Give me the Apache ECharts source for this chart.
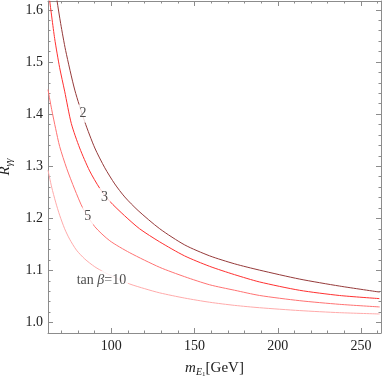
<!DOCTYPE html>
<html>
<head>
<meta charset="utf-8">
<script src="https://cdn.jsdelivr.net/npm/echarts@6/dist/echarts.min.js"></script>
<style>
  html, body { margin: 0; padding: 0; background: #fff; }
  #chart { width: 382px; height: 377px; }
</style>
</head>
<body>
<div id="chart"></div>
<script>
// curves for tan beta = 2, 3, 5, 10
const x2 = [66.3, 67.4, 69.6, 72.6, 78.1, 84.1, 90.1, 96.1, 102.1, 108.1, 116.1, 129.1, 144.1, 159.1, 174.1, 189.1, 213.2, 237.2, 261.2];
const y2 = [1.644, 1.618, 1.574, 1.522, 1.446, 1.385, 1.335, 1.297, 1.266, 1.241, 1.215, 1.18, 1.149, 1.128, 1.1127, 1.1006, 1.0834, 1.07, 1.0585];
const x3 = [63, 66, 69, 72, 76, 81, 87, 93, 99, 108, 117, 129, 144, 159, 174, 189, 213, 237, 261];
const y3 = [1.618, 1.545, 1.489, 1.444, 1.382, 1.335, 1.291, 1.258, 1.233, 1.205, 1.18, 1.155, 1.128, 1.108, 1.092, 1.078, 1.062, 1.052, 1.046];
const x5 = [62, 64.2, 66.6, 69, 73.2, 78, 83, 90.1, 99.1, 111.1, 129.1, 144.1, 159.1, 174.1, 189.1, 213.2, 237.2, 261.2];
const y5 = [1.447, 1.409, 1.372, 1.338, 1.296, 1.256, 1.219, 1.184, 1.157, 1.134, 1.106, 1.088, 1.0725, 1.062, 1.052, 1.042, 1.035, 1.03];
const x10 = [62, 64.2, 66.6, 69, 72, 75, 79.1, 84.1, 90.1, 96.1, 103.3, 111.1, 120.1, 129.1, 144.1, 159.1, 174.1, 189.1, 213.2, 237.2, 261.2];
const y10 = [1.2925, 1.26, 1.231, 1.206, 1.18, 1.16, 1.139, 1.122, 1.107, 1.096, 1.085, 1.074, 1.065, 1.057, 1.047, 1.039, 1.033, 1.0285, 1.023, 1.019, 1.0165];

// curve labels
const labelX = [83, 96, 85.9, 94.1];
const labelY = [1.401, 1.241, 1.204, 1.082];
const labelText = ['2', '3', '5', '{n|tan }{i|β}{n|=10}'];

// ticks
const xMajor = [100, 150, 200, 250];
const xMinor = [70, 80, 90, 110, 120, 130, 140, 160, 170, 180, 190, 210, 220, 230, 240, 260];
const yMajor = [1.0, 1.1, 1.2, 1.3, 1.4, 1.5, 1.6];
const yMinor = [1.02, 1.04, 1.06, 1.08, 1.12, 1.14, 1.16, 1.18, 1.22, 1.24, 1.26, 1.28,
  1.32, 1.34, 1.36, 1.38, 1.42, 1.44, 1.46, 1.48, 1.52, 1.54, 1.56, 1.58];

const colors = ['#953a3a', '#ff3030', '#ff7272', '#ffaaaa'];
const font = 'Liberation Serif';
const frame = '#8c8c8c';

const chart = echarts.init(document.getElementById('chart'));

function pts(xs, ys) {
  return xs.map((x, i) => [x, ys[i]]);
}

function xAx(pos, major, labels, name) {
  return {
    type: 'value', min: 62, max: 262, position: pos,
    name: name || '', nameLocation: 'middle', nameGap: 25,
    nameTextStyle: {
      fontFamily: font, color: '#222', fontSize: 15,
      rich: {
        i: { fontFamily: font, fontStyle: 'italic', fontSize: 15, color: '#222' },
        s: { fontFamily: font, fontStyle: 'italic', fontSize: 10, color: '#222', padding: [9, 0, 0, 0] },
        s1: { fontFamily: font, fontSize: 7, color: '#222', padding: [13, 0, 0, 0] },
        n: { fontFamily: font, fontSize: 15, color: '#222' }
      }
    },
    axisLine: { show: major, lineStyle: { color: frame, width: 1 } },
    axisTick: { show: true, inside: true, length: major ? 5 : 2.5,
      customValues: major ? xMajor : xMinor, lineStyle: { color: frame } },
    axisLabel: { show: labels, customValues: xMajor, fontFamily: font, fontSize: 14, color: '#222', margin: 6 },
    splitLine: { show: false }
  };
}

function yAx(pos, major, labels, name) {
  return {
    type: 'value', min: 0.98, max: 1.617, position: pos,
    name: name || '', nameLocation: 'middle', nameGap: 26,
    nameTextStyle: {
      fontFamily: font, color: '#222', fontSize: 15,
      rich: {
        i: { fontFamily: font, fontStyle: 'italic', fontSize: 15, color: '#222' },
        s: { fontFamily: font, fontStyle: 'italic', fontSize: 10, color: '#222', padding: [9, 0, 0, 0] }
      }
    },
    axisLine: { show: major, lineStyle: { color: frame, width: 1 } },
    axisTick: { show: true, inside: true, length: major ? 5 : 2.5,
      customValues: major ? yMajor : yMinor, lineStyle: { color: frame } },
    axisLabel: { show: labels, customValues: yMajor, fontFamily: font, fontSize: 14, color: '#222', margin: 5,
      formatter: v => v.toFixed(1) },
    splitLine: { show: false }
  };
}

const lineData = [pts(x2, y2), pts(x3, y3), pts(x5, y5), pts(x10, y10)];

const series = lineData.map((d, i) => ({
  type: 'line', data: d, smooth: 0.25, showSymbol: false, clip: true,
  lineStyle: { color: colors[i], width: 1 }, z: 2
}));

series.push({
  type: 'scatter', z: 5, symbolSize: 1, itemStyle: { color: 'rgba(0,0,0,0)' },
  data: labelX.map((x, i) => ({ value: [x, labelY[i]], name: labelText[i] })),
  label: {
    show: true, position: 'inside', formatter: '{b}', backgroundColor: '#fff', padding: [2, 2],
    fontFamily: font, fontSize: 14, color: '#222',
    rich: {
      n: { fontFamily: font, fontSize: 14, color: '#222' },
      i: { fontFamily: font, fontStyle: 'italic', fontSize: 14, color: '#222' }
    }
  }
});

chart.setOption({
  animation: false,
  grid: { left: 48, right: 1, top: 1, bottom: 44, containLabel: false, outerBoundsMode: 'none' },
  xAxis: [
    xAx('bottom', true, true, '{i|m}{s|E}{s1|1}{n|[GeV]}'),
    xAx('top', true, false),
    xAx('bottom', false, false),
    xAx('top', false, false)
  ],
  yAxis: [
    yAx('left', true, true, '{i|R}{s|γγ}'),
    yAx('right', true, false),
    yAx('left', false, false),
    yAx('right', false, false)
  ],
  series: series
});
</script>
</body>
</html>
